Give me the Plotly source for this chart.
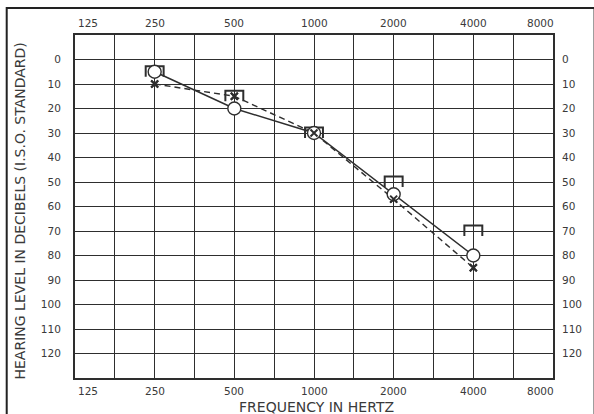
import numpy as np
import plotly.graph_objects as go

# Audiogram data (dB HL at each test frequency)
freqs = [250, 500, 1000, 2000, 4000]
air_circle = [5, 20, 30, 55, 80]      # open circles, solid line
air_cross = [10, 15, 30, 57, 85]      # crosses, dashed line
bone_bracket = [5, 15, 30, 50, 70]    # bracket symbols

x_tick_vals = [125, 250, 500, 1000, 2000, 4000, 8000]
x_tick_text = ["125", "250", "500", "1000", "2000", "4000", "8000"]
y_tick_vals = list(range(0, 130, 10))
y_tick_text = [str(v) for v in y_tick_vals]

# half-octave grid positions between 125 Hz and 8000 Hz
grid_x = [125 * 2 ** (k / 2) for k in range(13)]

INK = "#2e2e2e"
TXT = "#3a3a3a"
FONT = "DejaVu Sans"

fig = go.Figure()

# dashed line with crosses
fig.add_trace(go.Scatter(
    x=freqs, y=air_cross, mode="lines+markers",
    line=dict(color=INK, width=1.4, dash="6px,4px"),
    marker=dict(symbol="x-thin", size=7, line=dict(color=INK, width=2)),
    showlegend=False, hoverinfo="skip"))

# solid line with open circles
fig.add_trace(go.Scatter(
    x=freqs, y=air_circle, mode="lines",
    line=dict(color=INK, width=1.5),
    showlegend=False, hoverinfo="skip"))

# bracket symbols built around each bone-conduction value
half_w = 2 ** (9 / 80)   # ~9 px half-width on the log axis
bx, by = [], []
for f, v in zip(freqs, bone_bracket):
    bx += [f / half_w, f / half_w, f * half_w, f * half_w, None]
    by += [v + 2, v - 2.2, v - 2.2, v + 2, None]
fig.add_trace(go.Scatter(
    x=bx, y=by, mode="lines", line=dict(color=INK, width=2),
    showlegend=False, hoverinfo="skip"))

fig.add_trace(go.Scatter(
    x=freqs, y=air_circle, mode="markers",
    marker=dict(symbol="circle", size=13, color="white",
                line=dict(color=INK, width=1.4)),
    showlegend=False, hoverinfo="skip"))

# crosses on top so they stay visible inside the brackets
fig.add_trace(go.Scatter(
    x=freqs, y=air_cross, mode="markers",
    marker=dict(symbol="x-thin", size=7, line=dict(color=INK, width=2)),
    showlegend=False, hoverinfo="skip"))

# invisible trace to activate the right-hand axis
fig.add_trace(go.Scatter(x=[1000], y=[60], yaxis="y2", mode="markers",
                         marker=dict(opacity=0), showlegend=False,
                         hoverinfo="skip"))

axis_common = dict(showline=True, linecolor=INK, linewidth=2, mirror=True,
                   gridcolor=INK, gridwidth=1.4, zeroline=False)

fig.update_layout(
    width=594, height=414,
    margin=dict(l=75, r=36, t=35, b=36),
    paper_bgcolor="white", plot_bgcolor="white",
    font=dict(family=FONT, color=TXT, size=11),
    xaxis=dict(type="log", range=[np.log10(125), np.log10(8000)],
               tickvals=grid_x, showticklabels=False, ticks="",
               **axis_common),
    yaxis=dict(range=[130, -10], tickvals=y_tick_vals, ticktext=y_tick_text,
               ticks="", ticklabelstandoff=10,
               tickfont=dict(family=FONT, size=10.5, color=TXT),
               **axis_common),
    yaxis2=dict(range=[130, -10], overlaying="y", side="right",
                tickvals=y_tick_vals, ticktext=y_tick_text, ticks="",
                ticklabelstandoff=8, showgrid=False, showline=False,
                zeroline=False,
                tickfont=dict(family=FONT, size=10.5, color=TXT)),
)

# frequency labels above and below the grid
for val, txt in zip(x_tick_vals, x_tick_text):
    if val == x_tick_vals[0]:
        anchor, shift = "left", 1
    elif val == x_tick_vals[-1]:
        anchor, shift = "right", 3
    else:
        anchor, shift = "center", 0
    for ypos, yanc, yshift in ((1, "bottom", 4), (0, "top", -5)):
        fig.add_annotation(x=np.log10(val), y=ypos, xref="x", yref="paper",
                           text=txt, showarrow=False, xanchor=anchor,
                           yanchor=yanc, xshift=shift, yshift=yshift,
                           font=dict(family=FONT, size=10.5, color=TXT))

fig.add_annotation(x=0.5, y=0, xref="paper", yref="paper",
                   text="FREQUENCY IN HERTZ", showarrow=False,
                   xanchor="center", yanchor="middle", yshift=-29, xshift=2,
                   font=dict(family=FONT, size=14, color=TXT))
fig.add_annotation(x=0, y=0.5, xref="paper", yref="paper",
                   text="HEARING LEVEL IN DECIBELS (I.S.O. STANDARD)",
                   showarrow=False, textangle=-90, xanchor="center",
                   yanchor="middle", xshift=-56, yshift=-5,
                   font=dict(family=FONT, size=14, color=TXT))

# frame around the figure (left and top edges visible)
pw, ph = 594 - 75 - 36, 414 - 35 - 36
fig.add_shape(type="rect", xref="paper", yref="paper",
              x0=(6 - 75) / pw, x1=(600 - 75) / pw,
              y0=-(420 - 35 - ph) / ph, y1=1 + (35 - 8) / ph,
              line=dict(color="#222", width=2), layer="below")

fig.write_html("out.html")
